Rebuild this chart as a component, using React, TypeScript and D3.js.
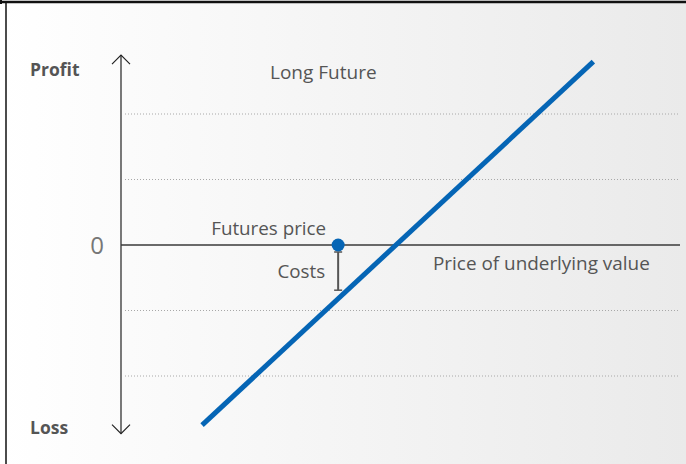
import { useEffect } from "react";
import * as d3 from "d3";

// price axis (arbitrary units) and profit axis (units of one grid step)
const gridLevels = [-2, -1, 1, 2];
const linePrices = [1.15, 6.7];
const lineProfits = [-2.75, 2.8];
const futuresPrice = 3.08;
const costs = 0.69;

const width = 686;
const height = 464;
const blue = "#0565b5";
const textColor = "#555555";
const font = "'Open Sans', 'Noto Sans', sans-serif";

const App: React.FC = () => {
  useEffect(() => {
    document.body.style.margin = "0";
  }, []);

  const xScale = d3.scaleLinear().domain([0, 8]).range([121, 685]);
  const yScale = d3.scaleLinear().domain([-3, 3]).range([441.5, 48.5]);

  const line = d3
    .line<number>()
    .x((d) => xScale(d))
    .y((d, i) => yScale(lineProfits[i]));

  const axisX = xScale(0);
  const zeroY = yScale(0);
  const fx = xScale(futuresPrice);
  const costY = yScale(-costs);

  return (
    <svg width={width} height={height} style={{ display: "block", fontFamily: font }}>
      <defs>
        <linearGradient id="bg" x1="0" x2="1" y1="0" y2="0">
          <stop offset="0%" stopColor="#ffffff" />
          <stop offset="100%" stopColor="#eaeaea" />
        </linearGradient>
      </defs>
      <rect x={0} y={0} width={width} height={height} fill="url(#bg)" />
      {/* frame */}
      <line x1={0} x2={width} y1={2} y2={2} stroke="#111" strokeWidth={2.5} />
      <line x1={6} x2={6} y1={2} y2={height} stroke="#111" strokeWidth={1.5} />
      <line x1={1} x2={1} y1={0} y2={4} stroke="#111" strokeWidth={2} />

      {/* dotted grid */}
      {gridLevels.map((g) => (
        <line
          key={g}
          x1={axisX + 4}
          x2={680}
          y1={yScale(g)}
          y2={yScale(g)}
          stroke="#a8a8a8"
          strokeWidth={1}
          strokeDasharray="1,2"
        />
      ))}

      {/* y axis with arrows */}
      <line x1={axisX} x2={axisX} y1={yScale(2.9)} y2={yScale(-2.88)} stroke="#222" strokeWidth={1.2} />
      <path
        d={`M${axisX - 9},${yScale(2.9) + 9}L${axisX},${yScale(2.9)}L${axisX + 9},${yScale(2.9) + 9}`}
        fill="none"
        stroke="#222"
        strokeWidth={1.2}
      />
      <path
        d={`M${axisX - 9},${yScale(-2.88) - 9}L${axisX},${yScale(-2.88)}L${axisX + 9},${yScale(-2.88) - 9}`}
        fill="none"
        stroke="#222"
        strokeWidth={1.2}
      />

      {/* zero line */}
      <line x1={axisX} x2={680} y1={zeroY} y2={zeroY} stroke="#3a3a3a" strokeWidth={1.4} />

      {/* payoff line */}
      <path d={line(linePrices) ?? ""} fill="none" stroke={blue} strokeWidth={5} />

      {/* costs marker */}
      <line x1={fx} x2={fx} y1={zeroY + 7} y2={costY} stroke="#555" strokeWidth={2} />
      <line x1={fx - 4} x2={fx + 4} y1={zeroY + 7} y2={zeroY + 7} stroke="#555" strokeWidth={1.5} />
      <line x1={fx - 4} x2={fx + 4} y1={costY} y2={costY} stroke="#555" strokeWidth={1.5} />
      <circle cx={fx} cy={zeroY} r={6.5} fill={blue} />

      {/* labels */}
      <text x={30} y={76} fontSize={17.5} fontWeight={700} fill={textColor}>Profit</text>
      <text x={30} y={434} fontSize={17.5} fontWeight={700} fill={textColor}>Loss</text>
      <text x={104} y={zeroY + 8.5} fontSize={24} textAnchor="end" fill="#777">0</text>
      <text x={270} y={79} fontSize={19} fill={textColor}>Long Future</text>
      <text x={fx - 12} y={235} fontSize={18.8} textAnchor="end" fill={textColor}>Futures price</text>
      <text x={fx - 13} y={278} fontSize={18.8} textAnchor="end" fill={textColor}>Costs</text>
      <text x={433} y={270} fontSize={18.9} fill={textColor}>Price of underlying value</text>
    </svg>
  );
};

export default App;
